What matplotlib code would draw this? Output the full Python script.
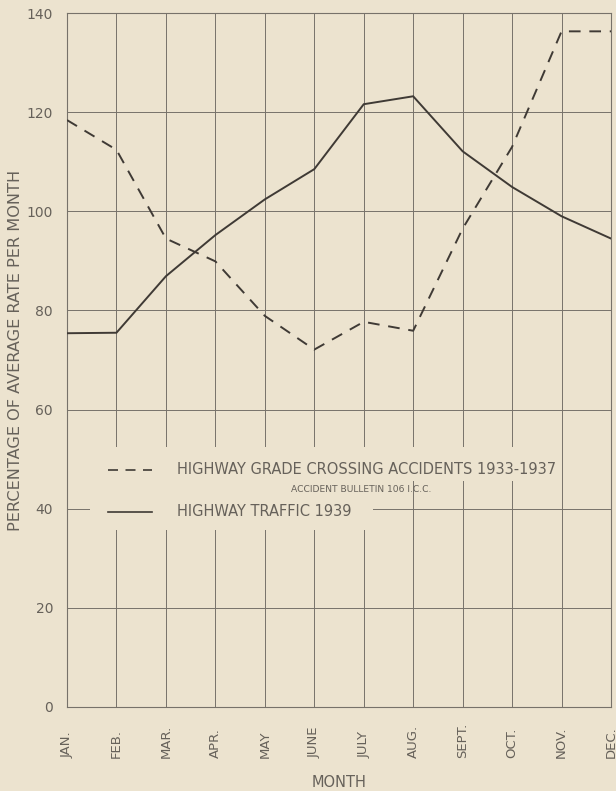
import matplotlib.pyplot as plt
from matplotlib.patches import Rectangle
from matplotlib.lines import Line2D
import matplotlib.transforms as mtransforms

months = ['JAN.', 'FEB.', 'MAR.', 'APR.', 'MAY', 'JUNE', 'JULY', 'AUG.', 'SEPT.', 'OCT.', 'NOV.', 'DEC.']
accidents = [118.4, 112.4, 94.5, 89.9, 78.9, 72.1, 77.7, 75.9, 96.5, 113.0, 136.3, 136.3]
traffic = [75.4, 75.5, 86.9, 95.2, 102.4, 108.5, 121.6, 123.2, 112.1, 104.9, 99.0, 94.5]
y_ticks = [0, 20, 40, 60, 80, 100, 120, 140]

bg = '#ece3cf'
ink = '#3f3a35'
grid_c = '#77726a'
txt_c = '#66615a'

fig = plt.figure(figsize=(6.16, 7.91), dpi=100, facecolor=bg)
ax = fig.add_axes([67 / 616, 84 / 791, 544 / 616, 694 / 791])
ax.set_facecolor(bg)

x = list(range(len(months)))
ax.plot(x, traffic, color=ink, lw=1.4, solid_joinstyle='miter', zorder=4)
ax.plot(x, accidents, color=ink, lw=1.4, dashes=(6, 4.5), zorder=4)

ax.set_xlim(0, len(months) - 1)
ax.set_ylim(0, 140)
ax.set_xticks(x)
ax.set_xticklabels([])
ax.set_yticks(y_ticks)
ax.set_yticklabels([str(v) for v in y_ticks], color=txt_c, fontsize=10)
ax.tick_params(length=0)
ax.tick_params(axis='y', pad=10)
ax.grid(True, color=grid_c, lw=0.7, zorder=1)
for s in ax.spines.values():
    s.set_color(grid_c)
    s.set_linewidth(0.8)

# month labels, reading upward, all starting on the same line
trans = mtransforms.blended_transform_factory(ax.transData, ax.transAxes)
for xi, m in zip(x, months):
    ax.text(xi, -0.0735, m, transform=trans, rotation=90, ha='center', va='bottom',
            fontsize=9.5, color=txt_c)

ax.set_xlabel('MONTH', fontsize=10.5, color=txt_c)
ax.xaxis.set_label_coords(0.5, -0.098)
ax.set_ylabel('PERCENTAGE OF AVERAGE RATE PER MONTH', fontsize=11.6, color=txt_c)
ax.yaxis.set_label_coords(-0.08, 0.514)

# key block, blanking the grid behind it
ax.add_patch(Rectangle((0.042, 0.255), 0.52, 0.12, transform=ax.transAxes,
                       facecolor=bg, edgecolor='none', zorder=2))
ax.add_patch(Rectangle((0.19, 0.325), 0.72, 0.05, transform=ax.transAxes,
                       facecolor=bg, edgecolor='none', zorder=2))
ax.add_line(Line2D([0.075, 0.156], [0.3415, 0.3415], transform=ax.transAxes,
                   color=ink, lw=1.2, dashes=(6, 4.5), zorder=5))
ax.add_line(Line2D([0.075, 0.156], [0.281, 0.281], transform=ax.transAxes,
                   color=ink, lw=1.2, zorder=5))
ax.text(0.202, 0.3415, 'HIGHWAY GRADE CROSSING ACCIDENTS 1933-1937', transform=ax.transAxes,
        ha='left', va='center', fontsize=10.5, color=txt_c, zorder=5)
ax.text(0.54, 0.314, 'ACCIDENT BULLETIN 106 I.C.C.', transform=ax.transAxes,
        ha='center', va='center', fontsize=6.6, color=txt_c, zorder=5)
ax.text(0.202, 0.281, 'HIGHWAY TRAFFIC 1939', transform=ax.transAxes,
        ha='left', va='center', fontsize=10.5, color=txt_c, zorder=5)

fig.savefig('out.png', dpi=100, facecolor=bg)
